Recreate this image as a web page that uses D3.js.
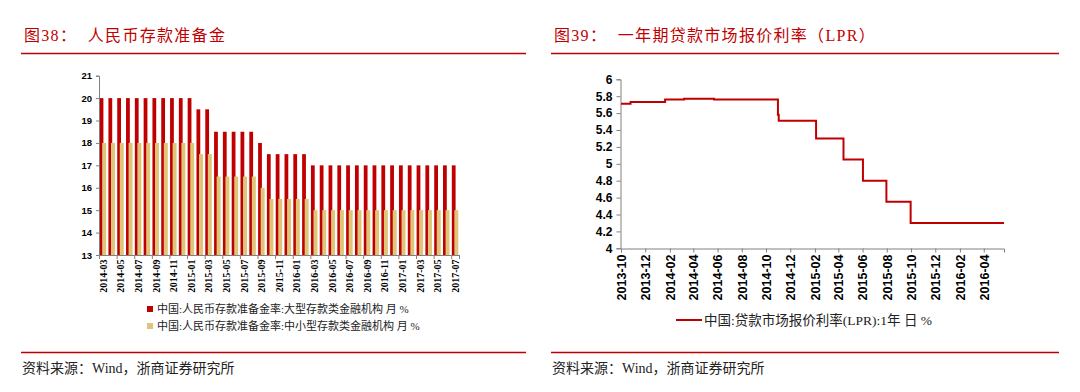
<!DOCTYPE html>
<html><head><meta charset="utf-8">
<script src="https://cdn.jsdelivr.net/npm/d3@7"></script>
<style>
body{margin:0;background:#fff;}
svg{display:block;font-family:"Liberation Serif","Noto Sans CJK SC",serif;}
</style></head><body>
<svg id="c" width="1080" height="392"></svg>
<script>
// ---- Left chart data (RRR, monthly) ----
const months = ["2014-03","2014-04","2014-05","2014-06","2014-07","2014-08","2014-09","2014-10","2014-11","2014-12",
"2015-01","2015-02","2015-03","2015-04","2015-05","2015-06","2015-07","2015-08","2015-09","2015-10","2015-11","2015-12",
"2016-01","2016-02","2016-03","2016-04","2016-05","2016-06","2016-07","2016-08","2016-09","2016-10","2016-11","2016-12",
"2017-01","2017-02","2017-03","2017-04","2017-05","2017-06","2017-07"];
const largeRRR = [20,20,20,20,20,20,20,20,20,20,20,19.5,19.5,18.5,18.5,18.5,18.5,18.5,18,17.5,17.5,17.5,17.5,17.5,
17,17,17,17,17,17,17,17,17,17,17,17,17,17,17,17,17];
const smallRRR = [18,18,18,18,18,18,18,18,18,18,18,17.5,17.5,16.5,16.5,16.5,16.5,16.5,16,15.5,15.5,15.5,15.5,15.5,
15,15,15,15,15,15,15,15,15,15,15,15,15,15,15,15,15];
const leftYTicks = [13,14,15,16,17,18,19,20,21];
const leftLegend = ["中国:人民币存款准备金率:大型存款类金融机构 月 %","中国:人民币存款准备金率:中小型存款类金融机构 月 %"];

// ---- Right chart data (LPR 1Y, breakpoints) ----
const lprDates = ["2013-10-25","2013-11-18","2014-02-13","2014-04-02","2014-06-16","2014-11-21","2014-11-24","2014-11-26",
"2015-02-28","2015-05-08","2015-06-26","2015-08-24","2015-10-24","2016-06-15"];
const lprValues = [5.71,5.73,5.76,5.77,5.76,5.76,5.58,5.51,5.30,5.05,4.80,4.55,4.30,4.30];
const rightXTicks = ["2013-10","2013-12","2014-02","2014-04","2014-06","2014-08","2014-10","2014-12",
"2015-02","2015-04","2015-06","2015-08","2015-10","2015-12","2016-02","2016-04"];
const rightYTicks = [4,4.2,4.4,4.6,4.8,5,5.2,5.4,5.6,5.8,6];
const rightLegend = "中国:贷款市场报价利率(LPR):1年 日 %";

const RED = "#C00000", TAN = "#DEC579", AXIS = "#808080";
const svg = d3.select("#c");

// ---- Headers / footers ----
function header(x0, x1, title){
  svg.append("text").attr("x", x0+3).attr("y", 41).attr("fill", RED)
    .style("font-size","16px").style("letter-spacing","1.3px").attr("xml:space","preserve").text(title);
  svg.append("line").attr("x1", x0).attr("x2", x1).attr("y1", 53.5).attr("y2", 53.5).attr("stroke", RED).attr("stroke-width", 1.5);
  svg.append("line").attr("x1", x0).attr("x2", x1).attr("y1", 352.5).attr("y2", 352.5).attr("stroke", RED).attr("stroke-width", 1.5);
  svg.append("text").attr("x", x0+1).attr("y", 373).attr("fill", "#222")
    .style("font-size","14px").text("资料来源：Wind，浙商证券研究所");
}
header(21, 526, "图38：  人民币存款准备金");
header(551, 1059, "图39：  一年期贷款市场报价利率（LPR）");

// ---- Left chart ----
const xl = d3.scaleBand().domain(months).range([99, 460]).padding(0);
const yl = d3.scaleLinear().domain([13, 21]).range([255, 75.7]);
const gl = svg.append("g");
const bw = xl.bandwidth();
gl.selectAll("rect.big").data(months).join("rect").attr("class","big")
  .attr("x", d => xl(d) + bw*0.07).attr("width", bw*0.43)
  .attr("y", (d,i) => yl(largeRRR[i])).attr("height", (d,i) => yl(13) - yl(largeRRR[i])).attr("fill", RED);
gl.selectAll("rect.small").data(months).join("rect").attr("class","small")
  .attr("x", d => xl(d) + bw*0.36).attr("width", bw*0.45)
  .attr("y", (d,i) => yl(smallRRR[i])).attr("height", (d,i) => yl(13) - yl(smallRRR[i])).attr("fill", TAN);
// y axis
const ayl = gl.append("g").attr("transform","translate(99,0)")
  .call(d3.axisLeft(yl).tickValues(leftYTicks).tickSize(3).tickFormat(d3.format("d")));
ayl.select(".domain").attr("stroke", AXIS);
ayl.selectAll(".tick line").attr("stroke", AXIS);
ayl.selectAll("text").style("font-size","9.5px").style("font-weight","bold").attr("fill","#000").attr("dx","-1");
// x axis
gl.append("line").attr("x1",99).attr("x2",460).attr("y1",255.5).attr("y2",255.5).attr("stroke",AXIS);
months.forEach((m,i) => {
  if (i % 2 === 0) {
    gl.append("line").attr("x1", xl(m)+0.5).attr("x2", xl(m)+0.5).attr("y1",255.5).attr("y2",259).attr("stroke",AXIS);
    const cx = xl(m) + bw/2 + 3.3;
    gl.append("text").attr("transform", `translate(${cx},259.5) rotate(-90)`)
      .attr("text-anchor","end").style("font-size","10px").style("font-weight","bold").text(m);
  }
});
gl.append("line").attr("x1",459.5).attr("x2",459.5).attr("y1",255.5).attr("y2",259).attr("stroke",AXIS);
// legend
[RED, TAN].forEach((c,i) => {
  gl.append("rect").attr("x",147).attr("y",306 + i*17).attr("width",6).attr("height",6).attr("fill",c);
  gl.append("text").attr("x",157).attr("y",313 + i*17).style("font-size","11px").attr("fill","#222")
    .attr("xml:space","preserve").text(leftLegend[i]);
});

// ---- Right chart ----
const parse = d3.timeParse("%Y-%m-%d");
const xr = d3.scaleTime().domain([parse("2013-10-25"), parse("2016-06-15")]).range([621, 1004]);
const yr = d3.scaleLinear().domain([4, 6]).range([248.3, 79.3]);
const gr = svg.append("g");
const ayr = gr.append("g").attr("transform","translate(620.5,0)")
  .call(d3.axisLeft(yr).tickValues(rightYTicks).tickSize(4).tickFormat(d => d3.format("")(+d.toFixed(1))));
ayr.select(".domain").attr("stroke", AXIS);
ayr.selectAll(".tick line").attr("stroke", AXIS);
ayr.selectAll("text").style("font-size","12px").style("font-weight","bold").attr("fill","#000").attr("dx","-1");
const tickDates = rightXTicks.map(s => parse(s + "-25"));
const axr = gr.append("g").attr("transform","translate(0,248.5)")
  .call(d3.axisBottom(xr).tickValues(tickDates).tickSize(4).tickFormat(d3.timeFormat("%Y-%m")));
axr.select(".domain").attr("stroke", AXIS);
axr.selectAll(".tick line").attr("stroke", AXIS);
axr.selectAll("text").style("font-size","12.5px").style("font-weight","bold").attr("fill","#000")
  .attr("text-anchor","end").attr("transform","rotate(-90)").attr("x",-6).attr("y",0).attr("dy","0.35em");
const lprData = lprDates.map((d,i) => ({d: parse(d), v: lprValues[i]}));
gr.append("path").datum(lprData)
  .attr("d", d3.line().x(p => xr(p.d)).y(p => yr(p.v)).curve(d3.curveStepAfter))
  .attr("fill","none").attr("stroke",RED).attr("stroke-width",2);
// legend
gr.append("line").attr("x1",676).attr("x2",702).attr("y1",320).attr("y2",320).attr("stroke",RED).attr("stroke-width",2);
gr.append("text").attr("x",704).attr("y",325).style("font-size","13.5px").attr("fill","#222")
  .attr("xml:space","preserve").text(rightLegend);
</script>
</body></html>
